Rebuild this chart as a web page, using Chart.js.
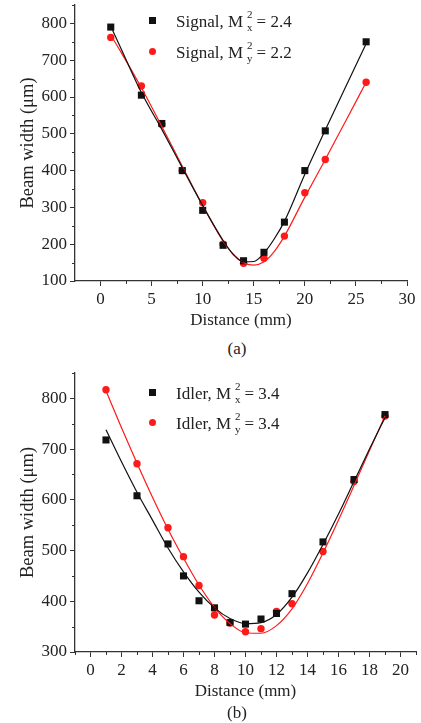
<!DOCTYPE html>
<html>
<head>
<meta charset="utf-8">
<script src="https://cdn.jsdelivr.net/npm/chart.js@4/dist/chart.umd.min.js"></script>
<style>
body { margin: 0; background: #fff; width: 421px; height: 723px; position: relative; overflow: hidden; font-family: 'Liberation Serif', 'Times New Roman', serif; color: #222; }
canvas { position: absolute; left: 0; }
.row { position: absolute; left: 0; height: 20px; line-height: 20px; white-space: nowrap; font-size: 17px; }
.mk { position: absolute; left: 149px; top: 6.5px; width: 7px; height: 7px; }
.sq { background: #111; }
.ci { background: #ff1a1a; border-radius: 50%; }
.txt { position: absolute; left: 176px; top: 0; }
.ss { display: inline-flex; flex-direction: column; font-size: 11px; line-height: 13px; vertical-align: middle; margin: 0 4px 0 4px; text-align: center; position: relative; top: -2px; }
.cap { position: absolute; left: 0; width: 474px; text-align: center; font-size: 17px; line-height: 20px; }
</style>
</head>
<body>
<canvas id="chartA" width="421" height="332" style="top:0"></canvas>
<canvas id="chartB" width="421" height="345" style="top:360px"></canvas>

<div class="row" style="top:10px"><span class="mk sq"></span><span class="txt">Signal, M<span class="ss"><span>2</span><span>x</span></span>= 2.4</span></div>
<div class="row" style="top:41px"><span class="mk ci"></span><span class="txt">Signal, M<span class="ss"><span>2</span><span>y</span></span>= 2.2</span></div>
<div class="cap" style="top:339px">(a)</div>

<div class="row" style="top:382px"><span class="mk sq"></span><span class="txt">Idler, M<span class="ss"><span>2</span><span>x</span></span>= 3.4</span></div>
<div class="row" style="top:412px"><span class="mk ci"></span><span class="txt">Idler, M<span class="ss"><span>2</span><span>y</span></span>= 3.4</span></div>
<div class="cap" style="top:703px">(b)</div>

<script>
// (a) signal beam, measured points
const distA = [1, 4, 6, 8, 10, 12, 14, 16, 18, 20, 22, 26]
const signalX = [790, 605, 528, 400, 292, 197, 155, 178, 260, 400, 508, 750]
const signalY = [762, 630, 525, 400, 313, 200, 148, 162, 222, 340, 430, 640]
// (a) fitted curves
const fitDistA = [1, 2, 4, 6, 8, 10, 12, 13, 14, 15, 16, 17, 18, 20, 22, 24, 26]
const fitSignalX = [792, 732, 612, 512, 408, 305, 210, 172, 152, 153, 176, 214, 262, 390, 510, 628, 745]
const fitSignalY = [768, 722, 625, 520, 412, 305, 208, 172, 150, 143, 152, 180, 222, 328, 430, 535, 640]
const xTicksA = [0, 5, 10, 15, 20, 25, 30]
const xMinorA = [2.5, 7.5, 12.5, 17.5, 22.5, 27.5]
const yTicksA = [100, 200, 300, 400, 500, 600, 700, 800]
const yMinorA = [150, 250, 350, 450, 550, 650, 750, 850]

// (b) idler beam, measured points
const distB = [1, 3, 5, 6, 7, 8, 9, 10, 11, 12, 13, 15, 17, 19]
const idlerX = [718, 608, 513, 450, 401, 387, 358, 355, 365, 376, 415, 517, 640, 768]
const idlerY = [817, 671, 545, 488, 431, 373, 357, 340, 346, 380, 395, 498, 636, 765]
// (b) fitted curves
const fitDistB = [1, 2, 3, 4, 5, 6, 7, 8, 9, 10, 11, 12, 13, 14, 15, 16, 17, 18, 19]
const fitIdlerX = [738, 675, 615, 560, 505, 458, 418, 387, 366, 356, 358, 374, 408, 456, 512, 572, 636, 700, 762]
const fitIdlerY = [815, 742, 672, 605, 542, 485, 432, 388, 356, 338, 337, 352, 385, 435, 495, 560, 628, 697, 765]
const xTicksB = [0, 2, 4, 6, 8, 10, 12, 14, 16, 18, 20]
const xMinorB = [-1, 1, 3, 5, 7, 9, 11, 13, 15, 17, 19, 21]
const yTicksB = [300, 400, 500, 600, 700, 800]
const yMinorB = [350, 450, 550, 650, 750, 850]

const BLACK = '#111'
const RED = '#ff1a1a'
const AXIS = '#333'
const FONT = {family: "'Liberation Serif', 'Times New Roman', serif", size: 17}
const YTITLE_FONT = {family: "'Liberation Serif', 'Times New Roman', serif", size: 18.5}

function pts (xs, ys) {
  return xs.map(function (x, i) { return {x: x, y: ys[i]} })
}

// short ticks between the labelled ones
const minorTicks = {
  id: 'minorTicks',
  afterDraw (chart, args, opts) {
    let ctx = chart.ctx
    let sx = chart.scales.x
    let sy = chart.scales.y
    ctx.save()
    ctx.strokeStyle = AXIS
    ctx.lineWidth = 1
    ctx.beginPath()
    opts.x.forEach(function (v) {
      let px = Math.round(sx.getPixelForValue(v)) + 0.5
      ctx.moveTo(px, sx.top)
      ctx.lineTo(px, sx.top + 3)
    })
    opts.y.forEach(function (v) {
      let py = Math.round(sy.getPixelForValue(v)) + 0.5
      ctx.moveTo(sy.right - 3, py)
      ctx.lineTo(sy.right, py)
    })
    ctx.stroke()
    ctx.restore()
  }
}

function makeChart (id, o) {
  let ctx = document.getElementById(id).getContext('2d')
  return new Chart(ctx, {
    type: 'scatter',
    data: {
      datasets: [
        {type: 'line', data: pts(o.fitX, o.fitB), borderColor: BLACK, borderWidth: 1.2, pointRadius: 0, cubicInterpolationMode: 'monotone', fill: false},
        {type: 'line', data: pts(o.fitX, o.fitR), borderColor: RED, borderWidth: 1.2, pointRadius: 0, cubicInterpolationMode: 'monotone', fill: false},
        {data: pts(o.x, o.b), pointStyle: 'rect', pointRadius: 5, backgroundColor: BLACK, borderWidth: 0},
        {data: pts(o.x, o.r), pointStyle: 'circle', pointRadius: 3.7, backgroundColor: RED, borderWidth: 0}
      ]
    },
    options: {
      responsive: false,
      animation: false,
      layout: {padding: {top: o.padTop, right: o.padRight, left: 0, bottom: 0}},
      plugins: {
        legend: {display: false},
        tooltip: {enabled: false},
        minorTicks: {x: o.xMinor, y: o.yMinor}
      },
      scales: {
        x: {
          type: 'linear',
          min: o.xMin,
          max: o.xMax,
          afterBuildTicks: function (s) { s.ticks = o.xTicks.map(function (v) { return {value: v} }) },
          afterFit: function (s) { s.height = o.xH; s.paddingLeft = 0; s.paddingRight = 0 },
          grid: {drawOnChartArea: false, tickLength: 5, color: AXIS},
          border: {color: AXIS, width: 1.3},
          ticks: {font: FONT, color: '#222', padding: 3, maxRotation: 0, autoSkip: false},
          title: {display: true, text: 'Distance (mm)', font: FONT, color: '#222', padding: {top: 0, bottom: o.xTitlePad}}
        },
        y: {
          type: 'linear',
          min: o.yMin,
          max: o.yMax,
          afterBuildTicks: function (s) { s.ticks = o.yTicks.map(function (v) { return {value: v} }) },
          afterFit: function (s) { s.width = 75; s.paddingTop = 0; s.paddingBottom = 0 },
          grid: {drawOnChartArea: false, tickLength: 5, color: AXIS},
          border: {color: AXIS, width: 1.3},
          ticks: {font: FONT, color: '#222', padding: 3, autoSkip: false},
          title: {display: true, text: 'Beam width (μm)', font: YTITLE_FONT, color: '#222', padding: {top: 17, bottom: 0}}
        }
      }
    },
    plugins: [minorTicks]
  })
}

makeChart('chartA', {
  x: distA, b: signalX, r: signalY,
  fitX: fitDistA, fitB: fitSignalX, fitR: fitSignalY,
  xMin: -2.5, xMax: 30, yMin: 100, yMax: 850,
  xTicks: xTicksA, xMinor: xMinorA, yTicks: yTicksA, yMinor: yMinorA,
  padTop: 3, padRight: 14, xH: 51, xTitlePad: 1
})

makeChart('chartB', {
  x: distB, b: idlerX, r: idlerY,
  fitX: fitDistB, fitB: fitIdlerX, fitR: fitIdlerY,
  xMin: -1, xMax: 21, yMin: 300, yMax: 850,
  xTicks: xTicksB, xMinor: xMinorB, yTicks: yTicksB, yMinor: yMinorB,
  padTop: 13, padRight: 0, xH: 53, xTitlePad: 3
})
</script>
</body>
</html>
